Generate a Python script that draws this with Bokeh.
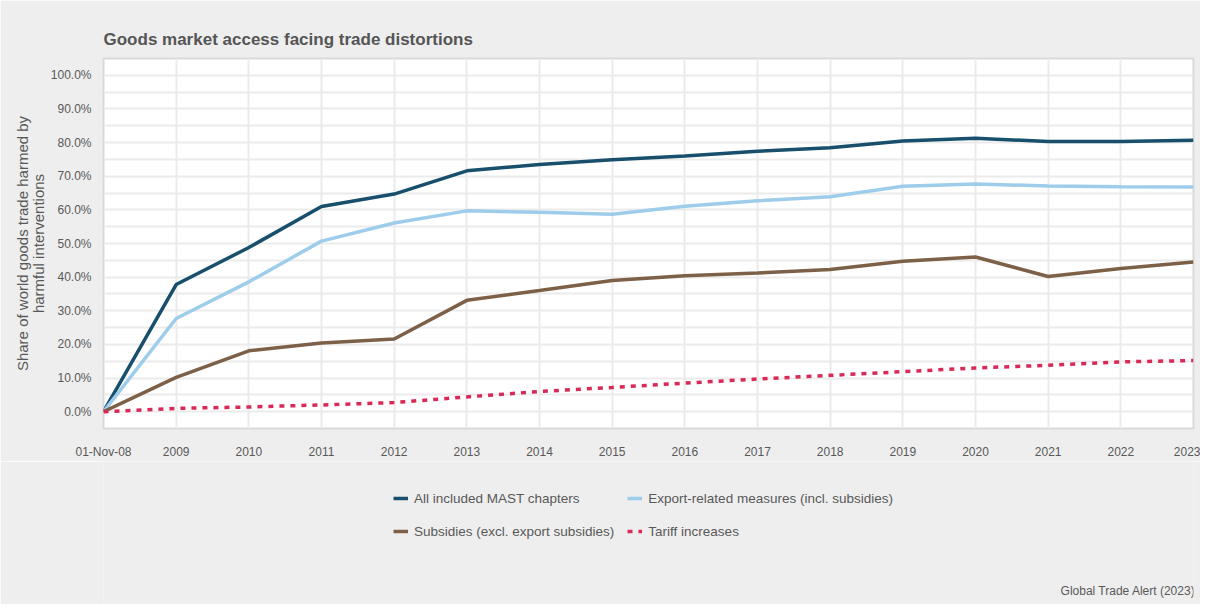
from bokeh.plotting import figure
from bokeh.layouts import column
from bokeh.models import (Range1d, FixedTicker, PrintfTickFormatter, Legend,
                          LegendItem, Label, ColumnDataSource)
from bokeh.embed import file_html
from bokeh.resources import INLINE

categories = ["01-Nov-08", "2009", "2010", "2011", "2012", "2013", "2014", "2015",
              "2016", "2017", "2018", "2019", "2020", "2021", "2022", "2023"]
all_mast = [0.0, 37.8, 48.8, 61.0, 64.7, 71.6, 73.5, 74.9, 76.0, 77.4, 78.5,
            80.5, 81.3, 80.3, 80.3, 80.7]
export_related = [0.0, 27.7, 38.6, 50.7, 56.1, 59.7, 59.3, 58.7, 61.1, 62.7,
                  63.9, 67.0, 67.7, 67.1, 66.9, 66.8]
subsidies = [0.0, 10.2, 18.1, 20.4, 21.6, 33.1, 36.0, 39.0, 40.4, 41.2, 42.3,
             44.7, 46.0, 40.2, 42.6, 44.5]
tariff = [0.0, 1.0, 1.4, 2.0, 2.7, 4.4, 6.0, 7.2, 8.5, 9.7, 10.8, 11.9, 13.0,
          13.8, 14.8, 15.2]

series_names = ["All included MAST chapters", "Export-related measures (incl. subsidies)",
                "Subsidies (excl. export subsidies)", "Tariff increases"]
series_keys = ["a", "e", "s", "t"]
series_colors = ["#174f6d", "#9dcdea", "#7d6048", "#d92a57"]
series_dash = ["solid", "solid", "solid", "5 6"]
y_ticks = [0, 10, 20, 30, 40, 50, 60, 70, 80, 90, 100]

FONT = "Liberation Sans"
TXT = "#595959"
BG = "#eeeeee"

x = list(range(len(categories)))
src = ColumnDataSource(dict(x=x, a=all_mast, e=export_related, s=subsidies, t=tariff))

# ---------------- main chart ----------------
p = figure(width=1200, height=461, output_backend="svg", toolbar_location=None,
           x_range=Range1d(0, len(categories) - 1), y_range=Range1d(-5, 105),
           min_border_left=103, min_border_right=7, min_border_top=58,
           min_border_bottom=30)

p.background_fill_color = "white"
p.border_fill_color = BG
p.outline_line_color = "#d9d9d9"
p.outline_line_width = 2

p.title.text = "Goods market access facing trade distortions"
p.title.text_font = FONT
p.title.text_font_size = "17px"
p.title.text_font_style = "bold"
p.title.text_color = "#555555"
p.title.standoff = 19

p.xaxis.ticker = FixedTicker(ticks=x)
p.xaxis.major_label_overrides = {i: c for i, c in enumerate(categories)}
p.yaxis.ticker = FixedTicker(ticks=y_ticks,
                             minor_ticks=[v + 5 for v in y_ticks[:-1]] + [-5, 105])
p.yaxis.formatter = PrintfTickFormatter(format="%.1f%%")
for ax in (p.xaxis[0], p.yaxis[0]):
    ax.axis_line_color = None
    ax.major_tick_line_color = None
    ax.minor_tick_line_color = None
    ax.major_label_text_font = FONT
    ax.major_label_text_font_size = "12px"
    ax.major_label_text_color = TXT
p.xaxis.major_label_standoff = 10
p.yaxis.major_label_standoff = 6
p.yaxis.axis_label = "Share of world goods trade harmed by\nharmful interventions"
p.yaxis.axis_label_text_font = FONT
p.yaxis.axis_label_text_font_size = "15px"
p.yaxis.axis_label_text_font_style = "normal"
p.yaxis.axis_label_text_color = TXT
p.yaxis.axis_label_text_line_height = 0.95
p.yaxis.axis_label_standoff = 1

GRID = "#ebebeb"
p.xgrid.grid_line_color = GRID
p.xgrid.grid_line_width = 2
p.ygrid.grid_line_color = GRID
p.ygrid.grid_line_width = 2
p.ygrid.minor_grid_line_color = GRID
p.ygrid.minor_grid_line_width = 2

for k, c, d in zip(series_keys, series_colors, series_dash):
    p.line("x", k, source=src, line_color=c, line_width=3.5, line_dash=d)

# ---------------- legend + source strip ----------------
q = figure(width=1200, height=143, output_backend="svg", toolbar_location=None,
           x_range=Range1d(0, 1), y_range=Range1d(500, 600),
           min_border_left=103, min_border_right=7,
           min_border_top=0, min_border_bottom=0)
q.axis.visible = False
q.grid.visible = False
q.outline_line_color = None
q.background_fill_color = BG
q.border_fill_color = BG

items = []
for name, k, c, d in zip(series_names, series_keys, series_colors, series_dash):
    # same data, drawn outside this strip's visible range: only the legend glyph shows
    r = q.line("x", k, source=src, line_color=c, line_width=3.5, line_dash=d)
    items.append(LegendItem(label=name, renderers=[r]))

legend = Legend(items=items, orientation="horizontal", ncols=2, location=(290, 63))
legend.background_fill_alpha = 0
legend.border_line_color = None
legend.label_text_font = FONT
legend.label_text_font_size = "13.5px"
legend.label_text_color = TXT
legend.glyph_width = 15
legend.glyph_height = 14
legend.label_standoff = 6
legend.spacing = 13
legend.padding = 0
legend.margin = 0
legend.label_height = 20
q.add_layout(legend, "center")

q.add_layout(Label(x=1092, y=14, x_units="screen", y_units="screen",
                   text="Global Trade Alert (2023)", text_font=FONT,
                   text_font_size="12px", text_color=TXT, text_align="right",
                   text_baseline="middle"))

layout = column(p, q, spacing=0)
open("out.html", "w").write(file_html(layout, INLINE))
